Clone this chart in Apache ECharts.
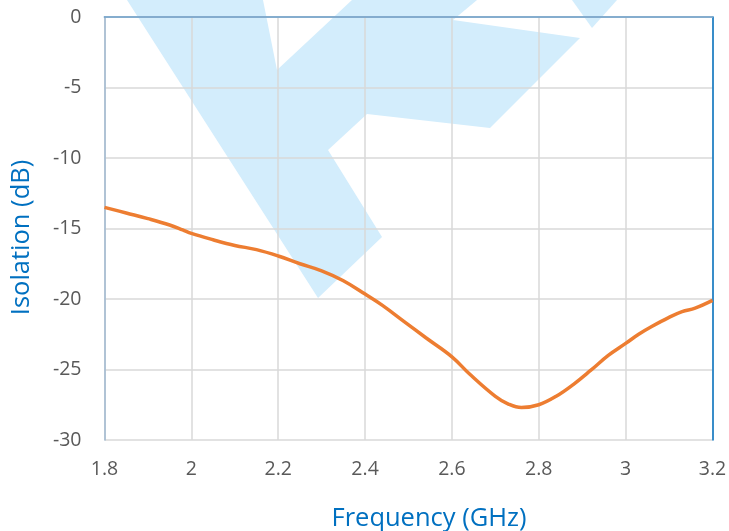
<!DOCTYPE html>
<html>
<head>
<meta charset="utf-8">
<script src="https://cdn.jsdelivr.net/npm/echarts@6/dist/echarts.min.js"></script>
<style>
html,body{margin:0;padding:0;background:#fff;}
#c{width:729px;height:531px;background:#fff;}
</style>
</head>
<body>
<div id="c"></div>
<script>
const freq = [1.80,1.85,1.90,1.95,1.98,2.00,2.05,2.10,2.15,2.20,2.25,2.30,2.35,2.40,2.44,2.49,2.54,2.60,2.64,2.70,2.73,2.76,2.80,2.84,2.88,2.92,2.96,3.00,3.03,3.06,3.10,3.13,3.16,3.20];
const isolation = [-13.5,-13.9,-14.3,-14.75,-15.1,-15.35,-15.8,-16.2,-16.5,-16.95,-17.5,-18.0,-18.7,-19.65,-20.45,-21.6,-22.75,-24.1,-25.3,-26.9,-27.45,-27.7,-27.5,-26.9,-26.05,-25.05,-24.0,-23.15,-22.5,-21.95,-21.3,-20.9,-20.65,-20.1];
const xTicks = {min:1.8, max:3.2, interval:0.2};
const yTicks = {min:-30, max:0, interval:5};
const xTitle = 'Frequency (GHz)';
const yTitle = 'Isolation (dB)';

// decorative watermark painted into the chart background
const dpr = window.devicePixelRatio || 1;
const bg = document.createElement('canvas');
bg.width = 729; bg.height = 531;
const g = bg.getContext('2d');
g.fillStyle = '#ffffff'; g.fillRect(0,0,729,531);
g.fillStyle = 'rgb(211,237,252)';
[[[127,0],[263,0],[277,70],[352,0],[477,0],[453,20],[580,38],[490,128],[367,114],[328,150],[382,237],[318,298]],
 [[572,0],[617,0],[592,28]]].forEach(poly=>{
  g.beginPath(); poly.forEach((p,i)=> i ? g.lineTo(p[0],p[1]) : g.moveTo(p[0],p[1])); g.closePath(); g.fill();
});

const chart = echarts.init(document.getElementById('c'), null, {renderer:'canvas'});
const FONT = 'Open Sans';
chart.setOption({
  animation:false,
  backgroundColor:{image:bg, repeat:'no-repeat'},
  grid:{left:104.5, right:16.5, top:17, bottom:91, show:false, containLabel:false, outerBoundsMode:'none'},
  xAxis:[{
    type:'value', min:xTicks.min, max:xTicks.max, interval:xTicks.interval,
    name:xTitle, nameLocation:'middle', nameGap:66,
    nameTextStyle:{color:'#0070C0', fontSize:25.5, fontFamily:FONT, padding:[0,0,0,41]},
    axisLine:{show:true, lineStyle:{color:'#0070C0', width:1.5}},
    axisTick:{show:false},
    axisLabel:{color:'#595959', fontSize:19.5, fontFamily:FONT, margin:19, formatter:v=>String(+v.toFixed(1))},
    splitLine:{show:true, lineStyle:{color:'#d9d9d9', width:1.5}}
  },{
    type:'value', position:'top', min:xTicks.min, max:xTicks.max, interval:xTicks.interval,
    axisLine:{show:true, onZero:false, lineStyle:{color:'#9fb8d0', width:1.5}},
    axisTick:{show:false}, axisLabel:{show:false}, splitLine:{show:false}
  }],
  yAxis:[{
    type:'value', min:yTicks.min, max:yTicks.max, interval:yTicks.interval,
    name:yTitle, nameLocation:'middle', nameGap:70, nameRotate:90,
    nameTextStyle:{color:'#0070C0', fontSize:25.5, fontFamily:FONT, padding:[0,18,0,0]},
    axisLine:{show:true, onZero:false, lineStyle:{color:'#9fb8d0', width:1.5}},
    axisTick:{show:false},
    axisLabel:{color:'#595959', fontSize:19.5, fontFamily:FONT, margin:23},
    splitLine:{show:true, lineStyle:{color:'#d9d9d9', width:1.5}}
  },{
    type:'value', position:'right', min:yTicks.min, max:yTicks.max, interval:yTicks.interval,
    axisLine:{show:true, onZero:false, lineStyle:{color:'#0070C0', width:1.5}},
    axisTick:{show:false}, axisLabel:{show:false}, splitLine:{show:false}
  }],
  series:[{
    type:'line', xAxisIndex:0, yAxisIndex:0,
    data:freq.map((f,i)=>[f,isolation[i]]),
    showSymbol:false, smooth:0.4,
    lineStyle:{color:'#ED7D31', width:3.5},
    z:5
  }]
});
</script>
</body>
</html>
